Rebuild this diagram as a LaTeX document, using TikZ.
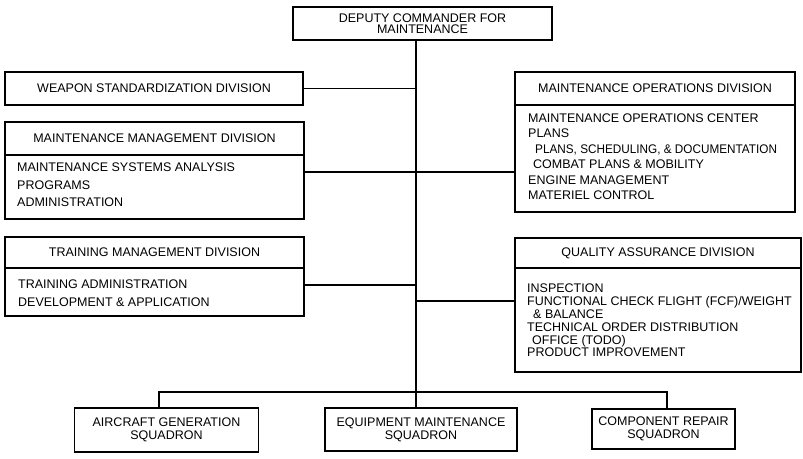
\documentclass[tikz,border=0pt]{standalone}
\usepackage{graphicx}
\usepackage{fontspec}
\setmainfont{Liberation Sans}
\begin{document}
\begin{tikzpicture}[x=1pt,y=-1pt,
  every node/.style={font=\fontsize{12.5}{12.5}\selectfont},
  box/.style={draw, line width=1.6pt, inner sep=0pt, outer sep=0pt, align=center},
  body/.style={anchor=north west, inner sep=0pt, align=left},
  link/.style={line width=1.6pt}]
\useasboundingbox (0,0) rectangle (803,458);

% top
\node[box, minimum width=259pt, minimum height=33pt, font=\fontsize{12.5}{11.5}\selectfont] (dcm) at (422.5,23.5) {DEPUTY COMMANDER FOR\\MAINTENANCE};

% left column
\node[box, minimum width=298pt, minimum height=33pt] (ws) at (154,88.5) {WEAPON STANDARDIZATION DIVISION};

\node[box, minimum width=299pt, minimum height=33pt] (mmh) at (154.5,138.5) {MAINTENANCE MANAGEMENT DIVISION};
\node[box, minimum width=299pt, minimum height=64pt, anchor=north] (mmb) at (mmh.south) {};
\node[body, font=\fontsize{12.5}{17.5}\selectfont] (mmt) at (17,163) {MAINTENANCE SYSTEMS ANALYSIS\\PROGRAMS\\ADMINISTRATION};

\node[box, minimum width=299pt, minimum height=31pt] (tmh) at (154.5,252.5) {TRAINING MANAGEMENT DIVISION};
\node[box, minimum width=299pt, minimum height=48pt, anchor=north] (tmb) at (tmh.south) {};
\node[body, font=\fontsize{12.5}{18}\selectfont] (tmt) at (18,279.5) {TRAINING ADMINISTRATION\\DEVELOPMENT \& APPLICATION};

% right column
\node[box, minimum width=280pt, minimum height=33pt] (moh) at (655,88.5) {MAINTENANCE OPERATIONS DIVISION};
\node[box, minimum width=280pt, minimum height=107pt, anchor=north] (mob) at (moh.south) {};
\node[body, font=\fontsize{12.5}{15.5}\selectfont] (mot) at (528,113.5) {MAINTENANCE OPERATIONS CENTER\\PLANS\\\hspace*{7pt}\scalebox{0.94}[1]{PLANS, SCHEDULING, \& DOCUMENTATION}\\\hspace*{5pt}COMBAT PLANS \& MOBILITY\\ENGINE MANAGEMENT\\MATERIEL CONTROL};

\node[box, minimum width=286pt, minimum height=30pt] (qah) at (658,253) {QUALITY ASSURANCE DIVISION};
\node[box, minimum width=286pt, minimum height=104pt, anchor=north] (qab) at (qah.south) {};
\node[body, font=\fontsize{12.5}{12.8}\selectfont] (qat) at (527,284) {INSPECTION\\FUNCTIONAL CHECK FLIGHT (FCF)/WEIGHT\\\hspace*{6pt}\& BALANCE\\TECHNICAL ORDER DISTRIBUTION\\\hspace*{5pt}OFFICE (TODO)\\PRODUCT IMPROVEMENT};

% bottom squadrons
\node[box, minimum width=184pt, minimum height=44pt, font=\fontsize{12.5}{13}\selectfont] (ac) at (166.5,430) {AIRCRAFT GENERATION\\SQUADRON};
\node[box, minimum width=192pt, minimum height=43pt, font=\fontsize{12.5}{13}\selectfont] (eq) at (421,429.5) {EQUIPMENT MAINTENANCE\\SQUADRON};
\node[box, minimum width=143pt, minimum height=40pt, font=\fontsize{12.5}{13}\selectfont] (cr) at (663.5,429) {COMPONENT REPAIR\\SQUADRON};

% junctions
\coordinate (sp) at (416,0);
\coordinate (wsj) at (416,88.5);
\coordinate (moj) at (416,172);
\coordinate (tmj) at (416,285);
\coordinate (qaj) at (416,301);
\coordinate (acj) at (159,392);
\coordinate (crj) at (667,392);

% connectors
\draw[link] (dcm.south -| sp) -- (eq.north -| sp);
\draw[link] (ws.east) -- (wsj);
\draw[link] (mmb.east |- moj) -- (mob.west |- moj);
\draw[link] (tmb.east |- tmj) -- (tmj);
\draw[link] (qaj) -- (qab.west |- qaj);
\draw[link] (ac.north -| acj) -- (acj) -- (crj) -- (cr.north -| crj);
\end{tikzpicture}
\end{document}
